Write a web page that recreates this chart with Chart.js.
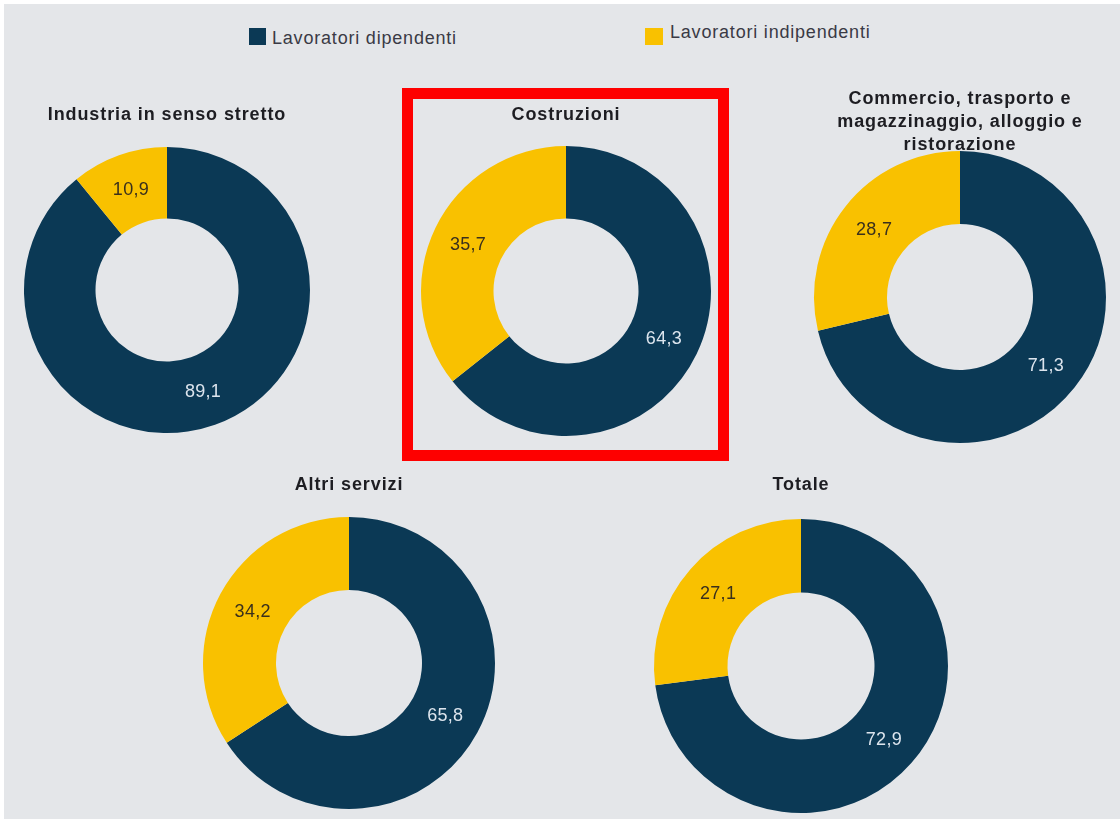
<!DOCTYPE html>
<html lang="it">
<head>
<meta charset="utf-8">
<title>Lavoratori dipendenti e indipendenti per settore</title>
<script src="https://cdn.jsdelivr.net/npm/chart.js@4.4.1/dist/chart.umd.min.js"></script>
<style>
  html, body { margin: 0; padding: 0; }
  body {
    width: 1120px; height: 819px; position: relative; overflow: hidden;
    background: #ffffff;
    font-family: "Liberation Sans", Arial, Helvetica, sans-serif;
  }
  #sheet { position: absolute; left: 4px; top: 4px; right: 0; bottom: 0; background: #e4e6e9; }
  .panel { position: absolute; }
  .swatch { position: absolute; width: 17px; height: 17px; }
  .key {
    position: absolute; font-size: 18px; line-height: 18px; letter-spacing: 0.8px;
    color: #3a3a45; white-space: nowrap;
  }
  #focus { position: absolute; box-sizing: border-box; border: 11px solid #fe0000; }
</style>
</head>
<body>
<div id="sheet"></div>
<div class="swatch" id="sw0" style="left:249px;top:28px;"></div>
<div class="key" id="key0" style="left:272px;top:29px;"></div>
<div class="swatch" id="sw1" style="left:645px;top:28px;width:18px;"></div>
<div class="key" id="key1" style="left:670px;top:23px;"></div>
<div id="focus" style="left:402px;top:88px;width:327px;height:373px;"></div>

<script>
// Sector titles (one entry per line of the title)
const sectorTitles = [
  ['Industria in senso stretto'],
  ['Costruzioni'],
  ['Commercio, trasporto e', 'magazzinaggio, alloggio e', 'ristorazione'],
  ['Altri servizi'],
  ['Totale']
];
// Share of employment, %
const dipendenti   = [89.1, 64.3, 71.3, 65.8, 72.9];
const indipendenti = [10.9, 35.7, 28.7, 34.2, 27.1];
const seriesNames  = ['Lavoratori dipendenti', 'Lavoratori indipendenti'];

// Styling
const seriesColors = ['#0b3955', '#f9c100'];
const labelColors  = ['#dde5ee', '#3a301c'];
const FONT = '"Liberation Sans", Arial, Helvetica, sans-serif';

// Where each ring sits on the page: centre, outer radius, first title line
const panels = [
  { cx: 167, cy: 290, r: 143, titleY: 115 },
  { cx: 566, cy: 291, r: 145, titleY: 115 },
  { cx: 960, cy: 297, r: 146, titleY: 99 },
  { cx: 349, cy: 663, r: 146, titleY: 485 },
  { cx: 801, cy: 666, r: 147, titleY: 485 }
];

// Legend
seriesNames.forEach((name, i) => {
  document.getElementById('key' + i).textContent = name;
  document.getElementById('sw' + i).style.background = seriesColors[i];
});

// Slightly wider tracking for the titles
const titleTracking = {
  id: 'titleTracking',
  beforeDraw(chart) { chart.ctx.letterSpacing = '0.9px'; },
  afterDraw(chart) { chart.ctx.letterSpacing = '0px'; }
};

// Value written inside each slice, Italian decimal comma
const sliceValues = {
  id: 'sliceValues',
  afterDatasetsDraw(chart) {
    const ctx = chart.ctx;
    const values = chart.data.datasets[0].data;
    chart.getDatasetMeta(0).data.forEach((arc, i) => {
      const p = arc.tooltipPosition(true);
      ctx.save();
      ctx.letterSpacing = '0.3px';
      ctx.font = '18px ' + FONT;
      ctx.fillStyle = labelColors[i];
      ctx.textAlign = 'center';
      ctx.textBaseline = 'middle';
      ctx.fillText(values[i].toFixed(1).replace('.', ','), p.x, p.y + 1);
      ctx.restore();
    });
  }
};

panels.forEach((p, k) => {
  const lines = sectorTitles[k];
  const lh = lines.length > 1 ? 23 : 22;
  const top0 = p.titleY - lh / 2;
  const canvasTop = Math.floor(top0);
  const padTop = top0 - canvasTop;
  const titleEnd = top0 + lines.length * lh;
  const padTitleBottom = Math.max(0, (p.cy - p.r) - titleEnd);
  const areaTop = titleEnd + padTitleBottom;
  const half = p.cy - areaTop;
  const canvasBottom = Math.ceil(p.cy + p.r + 4);
  const padBottom = canvasBottom - (p.cy + half);
  const W = 2 * Math.ceil(p.r) + 40;
  const H = canvasBottom - canvasTop;

  const canvas = document.createElement('canvas');
  canvas.className = 'panel';
  canvas.width = W;
  canvas.height = H;
  canvas.style.width = W + 'px';
  canvas.style.height = H + 'px';
  canvas.style.left = (p.cx - W / 2) + 'px';
  canvas.style.top = canvasTop + 'px';
  document.body.appendChild(canvas);

  new Chart(canvas, {
    type: 'doughnut',
    data: {
      labels: seriesNames,
      datasets: [{
        data: [dipendenti[k], indipendenti[k]],
        backgroundColor: seriesColors,
        borderWidth: 0,
        hoverOffset: 0,
        clip: false
      }]
    },
    options: {
      responsive: false,
      animation: false,
      devicePixelRatio: 1,
      events: [],
      radius: p.r,
      cutout: '50%',
      rotation: 0,
      circumference: 360,
      layout: { padding: { top: 0, left: 0, right: 0, bottom: padBottom } },
      plugins: {
        legend: { display: false },
        tooltip: { enabled: false },
        title: {
          display: true,
          text: lines,
          color: '#1d1d22',
          font: { family: FONT, size: 18, weight: 'bold', lineHeight: lh / 18 },
          padding: { top: padTop, bottom: padTitleBottom }
        }
      }
    },
    plugins: [titleTracking, sliceValues]
  });
});
</script>
</body>
</html>
